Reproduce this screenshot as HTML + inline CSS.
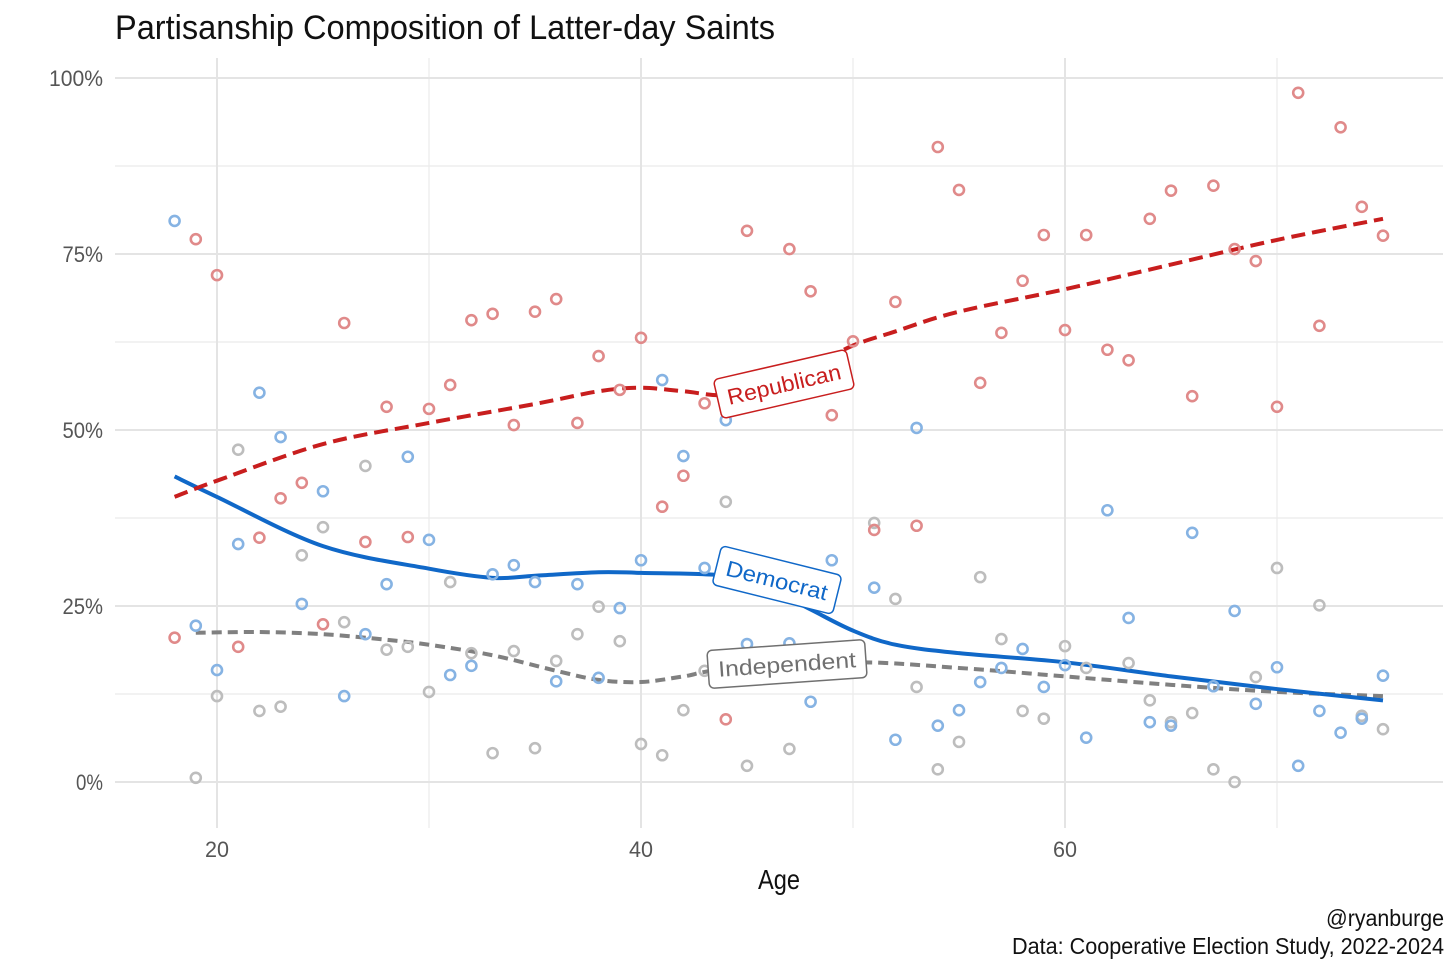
<!DOCTYPE html>
<html><head><meta charset="utf-8">
<style>
html,body{margin:0;padding:0;background:#fff;}
body{width:1456px;height:970px;overflow:hidden;font-family:"Liberation Sans Narrow","Liberation Sans",sans-serif;}
svg text{font-family:"Liberation Sans Narrow","Liberation Sans",sans-serif;}
</style></head>
<body>
<svg id="chart" width="1456" height="970" xmlns="http://www.w3.org/2000/svg">
<text x="115" y="39" font-size="34" fill="#111" textLength="660" lengthAdjust="spacingAndGlyphs">Partisanship Composition of Latter-day Saints</text>
<g id="grid"></g>
<g id="lines"></g>
<g id="points"></g>
<g id="labels"></g>
<text x="779" y="889" font-size="28" fill="#111" text-anchor="middle" textLength="42" lengthAdjust="spacingAndGlyphs">Age</text>
<text x="1444" y="926" font-size="23" fill="#111" text-anchor="end" textLength="118" lengthAdjust="spacingAndGlyphs">@ryanburge</text>
<text x="1444" y="954" font-size="23" fill="#111" text-anchor="end" textLength="432" lengthAdjust="spacingAndGlyphs">Data: Cooperative Election Study, 2022-2024</text>
</svg>
<script>
const repAges=[18,19,20,21,22,23,24,25,26,27,28,29,30,31,32,33,34,35,36,37,38,39,40,41,42,43,44,45,47,48,49,50,51,52,53,54,55,56,57,58,59,60,61,62,63,64,65,66,67,68,69,70,71,72,73,74,75];
const repVals=[20.5,77.1,72,19.2,34.7,40.3,42.5,22.4,65.2,34.1,53.3,34.8,53,56.4,65.6,66.5,50.7,66.8,68.6,51,60.5,55.7,63.1,39.1,43.5,53.8,8.9,78.3,75.7,69.7,52.1,62.6,35.8,68.2,36.4,90.2,84.1,56.7,63.8,71.2,77.7,64.2,77.7,61.4,59.9,80,84,54.8,84.7,75.7,74,53.3,97.9,64.8,93,81.7,77.6];
const demAges=[18,19,20,21,22,23,24,25,26,27,28,29,30,31,32,33,34,35,36,37,38,39,40,41,42,43,44,45,47,48,49,51,52,53,54,55,56,57,58,59,60,61,62,63,64,65,66,67,68,69,70,71,72,73,74,75];
const demVals=[79.7,22.2,15.9,33.8,55.3,49,25.3,41.3,12.2,21,28.1,46.2,34.4,15.2,16.5,29.5,30.8,28.4,14.3,28.1,14.8,24.7,31.5,57.1,46.3,30.4,51.4,19.6,19.7,11.4,31.5,27.6,6,50.3,8,10.2,14.2,16.2,18.9,13.5,16.6,6.3,38.6,23.3,8.5,8,35.4,13.6,24.3,11.1,16.3,2.3,10.1,7,9,15.1];
const indAges=[19,20,21,22,23,24,25,26,27,28,29,30,31,32,33,34,35,36,37,38,39,40,41,42,43,44,45,47,51,52,53,54,55,56,57,58,59,60,61,63,64,65,66,67,68,69,70,72,74,75];
const indVals=[0.6,12.2,47.2,10.1,10.7,32.2,36.2,22.7,44.9,18.8,19.2,12.8,28.4,18.3,4.1,18.6,4.8,17.2,21,24.9,20,5.4,3.8,10.2,15.8,39.8,2.3,4.7,36.8,26,13.5,1.8,5.7,29.1,20.3,10.1,9,19.3,16.2,16.9,11.6,8.5,9.8,1.8,0,14.9,30.4,25.1,9.4,7.5];
const repTrendAges=[18,20,25,30,35,38,40,42,44,46,48,50,52,54,56,60,65,70,75];
const repTrendVals=[40.5,42.8,48,51,53.7,55.5,56,55.5,55,56.8,59,62,64,66,67.5,70,73.5,77,80];
const demTrendAges=[18,20,25,30,33,35,38,40,44,46,48,50,52,55,60,65,70,75];
const demTrendVals=[43.4,40.5,33.5,30.3,29,29.3,29.8,29.7,29.3,27.5,24.5,21.5,19.5,18.3,17,15,13.2,11.6];
const indTrendAges=[19,22,25,28,30,33,36,38,40,42,44,50,55,60,65,70,75];
const indTrendVals=[21.2,21.3,21,20.2,19.5,18,15.8,14.5,14.2,15,16,17,16.2,15,13.8,12.8,12.2];
const xTicks=[20,40,60];
const yTicks=[0,25,50,75,100];
const yTickLabels=["0%","25%","50%","75%","100%"];

const NS="http://www.w3.org/2000/svg";
const X=a=>217+(a-20)*21.2;
const Y=v=>782-v*7.04;
function mk(tag,attrs,parent){const e=document.createElementNS(NS,tag);for(const k in attrs)e.setAttribute(k,attrs[k]);parent.appendChild(e);return e;}
const grid=document.getElementById('grid');
[30,50,70].forEach(a=>{const l=mk('line',{x1:X(a),x2:X(a),y1:58,y2:828,stroke:'#ebebeb','stroke-width':1.2},grid);

});
[12.5,37.5,62.5,87.5].forEach(v=>{const l=mk('line',{x1:115,x2:1443,y1:Y(v),y2:Y(v),stroke:'#ebebeb','stroke-width':1.2},grid);

});
xTicks.forEach(a=>{const l=mk('line',{x1:X(a),x2:X(a),y1:58,y2:828,stroke:'#e4e4e4','stroke-width':2},grid);


const t=mk('text',{x:X(a),y:857,'font-size':22,fill:'#555','text-anchor':'middle',textLength:24,lengthAdjust:'spacingAndGlyphs'},grid);t.textContent=a;

});
yTicks.forEach((v,i)=>{const l=mk('line',{x1:115,x2:1443,y1:Y(v),y2:Y(v),stroke:'#e4e4e4','stroke-width':2},grid);


const t=mk('text',{x:103,y:Y(v)+8,'font-size':22,fill:'#555','text-anchor':'end',textLength:yTickLabels[i].length*13.5,lengthAdjust:'spacingAndGlyphs'},grid);t.textContent=yTickLabels[i];

});

const pts=document.getElementById('points');
function dots(ages,vals,col,name){ages.forEach((a,i)=>{const c=mk('circle',{cx:X(a),cy:Y(vals[i]),r:5,fill:'none',stroke:col,'stroke-width':2.6},pts);

});}
dots(indAges,indVals,'#bdbdbd','independent-point');
dots(demAges,demVals,'#86b3e3','democrat-point');
dots(repAges,repVals,'#e08a8a','republican-point');

function smooth(ages,vals){const p=ages.map((a,i)=>[X(a),Y(vals[i])]);let d='M'+p[0][0]+','+p[0][1];
for(let i=0;i<p.length-1;i++){const p0=p[i-1]||p[i],p1=p[i],p2=p[i+1],p3=p[i+2]||p2;
const c1=[p1[0]+(p2[0]-p0[0])/6,p1[1]+(p2[1]-p0[1])/6],c2=[p2[0]-(p3[0]-p1[0])/6,p2[1]-(p3[1]-p1[1])/6];
d+=' C'+c1+' '+c2+' '+p2;}return d;}
const lines=document.getElementById('lines');
const li=mk('path',{d:smooth(indTrendAges,indTrendVals),fill:'none',stroke:'#808080','stroke-width':4,'stroke-dasharray':'10,6'},lines);


const ld=mk('path',{d:smooth(demTrendAges,demTrendVals),fill:'none',stroke:'#1068c8','stroke-width':4},lines);


const lr=mk('path',{d:smooth(repTrendAges,repTrendVals),fill:'none',stroke:'#c81e1e','stroke-width':4,'stroke-dasharray':'14,7'},lines);



const labs=document.getElementById('labels');
function label(txt,cx,cy,w,h,rot,col,name){const g=mk('g',{transform:`translate(${cx},${cy}) rotate(${rot})`},labs);


mk('rect',{x:-w/2,y:-h/2,width:w,height:h,rx:5,fill:'#fff',stroke:col,'stroke-width':1.5},g);
const t=mk('text',{x:0,y:8,'font-size':22,fill:col,'text-anchor':'middle',textLength:w-20,lengthAdjust:'spacingAndGlyphs'},g);t.textContent=txt;}
label('Republican',784,384,136,40,-13,'#c81e1e','republican-label');
label('Democrat',777,580,124,40,14,'#1068c8','democrat-label');
label('Independent',787,664,158,38,-4,'#707070','independent-label');
</script>
</body></html>
